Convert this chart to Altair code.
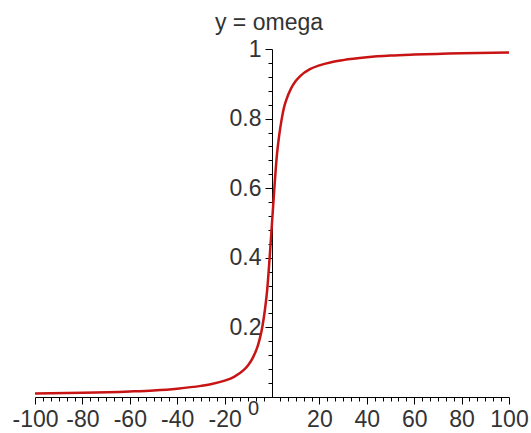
import altair as alt
import pandas as pd

# values
x_vals = [-100, -80, -60, -50, -40, -30, -25, -20, -16, -12, -10, -8, -6, -5, -4, -3, -2, -1,
          0, 1, 2, 3, 4, 5, 6, 8, 10, 12, 16, 20, 25, 30, 40, 50, 60, 80, 100]
omega = [0.010, 0.012, 0.016, 0.019, 0.024, 0.032, 0.038, 0.047, 0.058, 0.077, 0.092, 0.114,
         0.147, 0.172, 0.205, 0.25, 0.31, 0.40, 0.50, 0.60, 0.69, 0.75, 0.795, 0.83, 0.853,
         0.886, 0.908, 0.923, 0.942, 0.953, 0.962, 0.968, 0.976, 0.981, 0.984, 0.988, 0.990]

df = pd.DataFrame({"x": x_vals, "omega": omega})

x_ticks = [round(k * 10 / 3, 4) for k in range(-30, 31)]
y_ticks = [round(k * 0.04, 4) for k in range(1, 26)]

FONT = "Liberation Sans"
TXT = "#333333"
major_x = "abs(datum.value % 20) < 0.01"
major_y = "abs(datum.value * 5 - round(datum.value * 5)) < 0.001"
is_zero = "abs(datum.value) < 0.001"

x_axis = alt.Axis(
    values=x_ticks, orient="bottom", grid=False, title=None,
    labelExpr=f"{major_x} ? toString(round(datum.value)) : ''",
    labelFont=FONT, labelColor=TXT,
    labelFontSize={"condition": {"test": is_zero, "value": 20}, "value": 23},
    labelOffset={"condition": {"test": is_zero, "value": -19}, "value": 0},
    labelPadding={"condition": {"test": is_zero, "value": -6}, "value": 4},
    labelOverlap=False, labelFlush=False,
    tickSize={"condition": {"test": major_x, "value": 7}, "value": 4},
    tickOpacity={"condition": {"test": is_zero, "value": 0}, "value": 1},
    tickColor="black", domainColor="black", tickWidth=1, domainWidth=1,
)

y_axis = alt.Axis(
    values=y_ticks, orient="left", grid=False, title=None, offset=-237,
    labelExpr=f"{major_y} ? toString(datum.value) : ''",
    labelFont=FONT, labelColor=TXT, labelFontSize=23, labelPadding=4,
    labelOverlap=False, labelFlush=False,
    tickSize={"condition": {"test": major_y, "value": 7}, "value": 4},
    tickColor="black", domainColor="black", tickWidth=1, domainWidth=1,
)

chart = (
    alt.Chart(df)
    .mark_line(color="#c81414", strokeWidth=2.5, interpolate="monotone")
    .encode(
        x=alt.X("x:Q", scale=alt.Scale(domain=[-100, 100], nice=False, zero=False), axis=x_axis),
        y=alt.Y("omega:Q", scale=alt.Scale(domain=[0, 1], nice=False), axis=y_axis),
    )
    .properties(
        width=474, height=348,
        title=alt.TitleParams("y = omega", font=FONT, fontSize=23, fontWeight="normal",
                              color=TXT, anchor="middle", offset=3, dx=-3),
        padding={"left": 35, "top": 49, "right": 22, "bottom": 36},
        autosize="none",
        background="white",
    )
    .configure_view(strokeWidth=0)
)

chart.save("out.html", embed_options={"renderer": "svg", "actions": False})
